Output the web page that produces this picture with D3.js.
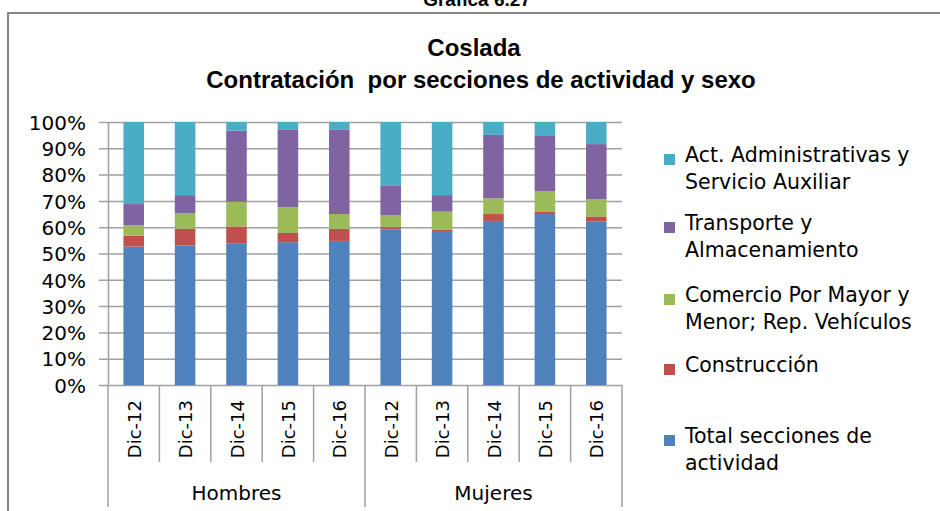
<!DOCTYPE html>
<html>
<head>
<meta charset="utf-8">
<script src="https://cdn.jsdelivr.net/npm/d3@7"></script>
<style>
    body { margin: 0; background: #fff; }
    text { fill: #000; }
</style>
</head>
<body>
<div id="chart"></div>
<script>
/* Data */
var categories = ["Dic-12", "Dic-13", "Dic-14", "Dic-15", "Dic-16",
                  "Dic-12", "Dic-13", "Dic-14", "Dic-15", "Dic-16"];
var groups = ["Hombres", "Mujeres"];
var seriesNames = ["Total secciones de actividad", "Construcción",
                   "Comercio Por Mayor y Menor; Rep. Vehículos",
                   "Transporte y Almacenamiento",
                   "Act. Administrativas y Servicio Auxiliar"];
var total           = [52.6, 53.1, 53.9, 54.3, 54.8, 59.2, 58.2, 62.4, 65.0, 62.1];
var construccion    = [4.2, 6.3, 6.4, 3.5, 4.6, 0.8, 0.9, 2.6, 1.0, 2.0];
var comercio        = [3.9, 6.0, 9.4, 9.9, 5.6, 4.5, 6.8, 6.0, 7.6, 6.5];
var transporte      = [8.1, 6.8, 27.0, 29.5, 32.2, 11.2, 6.3, 24.1, 21.1, 21.0];
var administrativas = [31.2, 27.8, 3.3, 2.8, 2.8, 24.3, 27.8, 4.9, 5.3, 8.4];
var yTicks = [0, 0.1, 0.2, 0.3, 0.4, 0.5, 0.6, 0.7, 0.8, 0.9, 1];
var legendLines = [
    ["Act. Administrativas y", "Servicio Auxiliar"],
    ["Transporte y", "Almacenamiento"],
    ["Comercio Por Mayor y", "Menor; Rep. Vehículos"],
    ["Construcción"],
    ["Total secciones de", "actividad"]
];

var colors = ["#4F81BD", "#C0504D", "#9BBB59", "#8064A2", "#4BACC6"];
var FONT = "'DejaVu Sans', Verdana, sans-serif";

var width = 940, height = 511,
    margins = {top: 122, left: 108, right: 318, bottom: 126};
var plotW = width - margins.left - margins.right,
    plotH = height - margins.top - margins.bottom;

/* build rows for the stack */
var rows = categories.map(function(c, i) {
    return {i: i, s0: total[i], s1: construccion[i], s2: comercio[i],
            s3: transporte[i], s4: administrativas[i]};
});
var keys = ["s0", "s1", "s2", "s3", "s4"];

var svg = d3.select("#chart").append("svg")
    .attr("width", width)
    .attr("height", height);

/* Outer frame and page heading (cut at the top, as in the source) */
svg.append("text")
    .attr("x", 477).attr("y", 6)
    .attr("text-anchor", "middle")
    .style("font", "bold 19px 'Liberation Sans', Arial, sans-serif")
    .text("Gráfica 6.27");
svg.append("path")
    .attr("d", "M8," + height + "V13H" + width)
    .attr("fill", "none")
    .attr("stroke", "#878787")
    .attr("stroke-width", 2);

/* Title */
var title = svg.append("g")
    .attr("text-anchor", "middle")
    .style("font", "bold 24px 'Liberation Sans', Arial, sans-serif");
title.append("text").attr("x", 474).attr("y", 56).text("Coslada");
title.append("text").attr("x", 481).attr("y", 88)
    .attr("xml:space", "preserve")
    .text("Contratación  por secciones de actividad y sexo");

var main = svg.append("g")
    .attr("transform", "translate(" + margins.left + "," + margins.top + ")");

/* Scales */
var x = d3.scaleBand()
    .domain(d3.range(categories.length))
    .range([0, plotW])
    .paddingInner(0.6)
    .paddingOuter(0.3);
var y = d3.scaleLinear()
    .domain([0, 1])
    .range([plotH, 0]);

/* Y axis with gridlines */
var yAxis = d3.axisLeft(y)
    .tickValues(yTicks)
    .tickFormat(d3.format(".0%"))
    .tickSizeInner(-plotW)
    .tickSizeOuter(0);
var yg = main.append("g").call(yAxis);
yg.select(".domain").attr("stroke", "#a0a0a0").attr("stroke-width", 1.5);
yg.selectAll(".tick line")
    .attr("x1", -9)
    .attr("x2", plotW)
    .attr("stroke", "#a0a0a0")
    .attr("stroke-width", 1.5);
yg.selectAll(".tick text")
    .attr("x", -22)
    .attr("dy", "0.36em")
    .style("font", "20px " + FONT);

/* Stacked bars */
var stack = d3.stack().keys(keys).offset(d3.stackOffsetExpand);
var layers = main.selectAll(".layer")
    .data(stack(rows))
    .enter()
    .append("g")
        .attr("class", "layer")
        .attr("fill", function(d, i) { return colors[i]; });
layers.selectAll("rect")
    .data(function(d) { return d; })
    .enter()
    .append("rect")
        .attr("x", function(d) { return x(d.data.i); })
        .attr("y", function(d) { return y(d[1]); })
        .attr("width", x.bandwidth())
        .attr("height", function(d) { return y(d[0]) - y(d[1]); });

/* Category axis: separators, labels and groups */
var step = x.step();
var bottom = main.append("g").attr("transform", "translate(0," + plotH + ")");
bottom.selectAll(".sep")
    .data(d3.range(categories.length + 1))
    .enter()
    .append("line")
        .attr("x1", function(d) { return d * step; })
        .attr("x2", function(d) { return d * step; })
        .attr("y1", 0)
        .attr("y2", function(d) { return d % 5 === 0 ? 122 : 77; })
        .attr("stroke", "#a0a0a0")
        .attr("stroke-width", 1.5);
bottom.selectAll(".cat")
    .data(categories)
    .enter()
    .append("text")
        .attr("transform", function(d, i) {
            return "translate(" + (x(i) + x.bandwidth() / 2 + 7) + ",15) rotate(-90)";
        })
        .attr("text-anchor", "end")
        .style("font", "18px " + FONT)
        .text(function(d) { return d; });
bottom.selectAll(".grp")
    .data(groups)
    .enter()
    .append("text")
        .attr("x", function(d, i) { return (i * 5 + 2.5) * step; })
        .attr("y", 115)
        .attr("text-anchor", "middle")
        .style("font", "20px " + FONT)
        .text(function(d) { return d; });

/* Legend */
var legendY = [162, 230, 302, 372, 443];
var legend = svg.append("g").attr("transform", "translate(664,0)");
legendLines.forEach(function(lines, k) {
    var ci = colors.length - 1 - k;
    legend.append("rect")
        .attr("x", 0)
        .attr("y", legendY[k] - 8)
        .attr("width", 11)
        .attr("height", 11)
        .attr("fill", colors[ci]);
    lines.forEach(function(line, j) {
        legend.append("text")
            .attr("x", 21)
            .attr("y", legendY[k] + j * 27)
            .style("font", "20.5px " + FONT)
            .text(line);
    });
});
</script>
</body>
</html>
